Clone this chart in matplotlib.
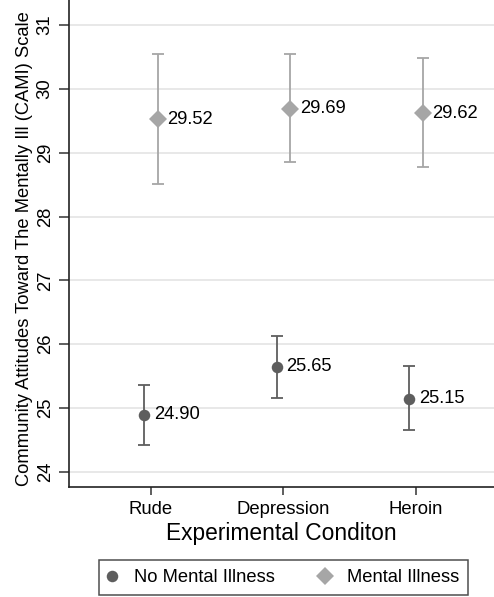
import matplotlib
matplotlib.use("Agg")
import matplotlib.pyplot as plt
from matplotlib.lines import Line2D

plt.rcParams["font.family"] = ["Liberation Sans", "DejaVu Sans"]

conditions = ["Rude", "Depression", "Heroin"]
no_mi_mean = [24.90, 25.65, 25.15]
no_mi_lo = [24.42, 25.16, 24.65]
no_mi_hi = [25.36, 26.13, 25.66]
mi_mean = [29.52, 29.69, 29.62]
mi_lo = [28.51, 28.85, 28.78]
mi_hi = [30.55, 30.54, 30.48]
yticks = [24, 25, 26, 27, 28, 29, 30, 31]

dark = "#5e5e5e"
light = "#a6a6a6"

fig = plt.figure(figsize=(4.94, 5.97), dpi=100)
ax = fig.add_axes([0.1397, 0.1848, 0.8603, 0.8152])

xpos = list(range(1, len(conditions) + 1))
off = 0.05

def draw_series(means, lo, hi, dx, color, marker, ms):
    xs = [x + dx for x in xpos]
    yerr = [[m - l for m, l in zip(means, lo)], [h - m for m, h in zip(means, hi)]]
    ax.errorbar(xs, means, yerr=yerr, fmt="none", ecolor=color, elinewidth=1.3,
                capsize=4.3, capthick=1.3, zorder=3)
    ax.plot(xs, means, linestyle="none", marker=marker, ms=ms, color=color,
            markeredgewidth=0, zorder=4)
    for x, m in zip(xs, means):
        ax.annotate(f"{m:.2f}", (x, m), xytext=(7, 0), textcoords="offset points",
                    ha="left", va="center", fontsize=13.2, color="black", zorder=5)

draw_series(no_mi_mean, no_mi_lo, no_mi_hi, -off, dark, "o", 8.3)
draw_series(mi_mean, mi_lo, mi_hi, off, light, "D", 8.8)

ax.set_xlim(0.381, 3.589)
ax.set_ylim(23.77, 31.39)
ax.set_xticks(xpos)
ax.set_xticklabels(conditions, fontsize=13.3)
ax.set_yticks(yticks)
ax.set_yticklabels([str(t) for t in yticks], fontsize=13.3, rotation=90, va="center")
ax.tick_params(axis="x", length=6, width=1.1, color="#333333", pad=4)
ax.tick_params(axis="y", length=7, width=1.1, color="#333333", pad=4)

ax.grid(axis="y", color="#e6e6e6", linewidth=1.3)
ax.set_axisbelow(True)
for s in ["top", "right"]:
    ax.spines[s].set_visible(False)
for s in ["left", "bottom"]:
    ax.spines[s].set_linewidth(1.2)
    ax.spines[s].set_color("#222222")

ax.set_xlabel("Experimental Conditon", fontsize=16.4, labelpad=3)
ax.set_ylabel("Community Attitudes Toward The Mentally Ill (CAMI) Scale",
              fontsize=13.2, labelpad=3)
ax.yaxis.set_label_coords(-0.085, 0.49)

handles = [
    Line2D([], [], linestyle="none", marker="o", ms=8.3, color=dark, markeredgewidth=0),
    Line2D([], [], linestyle="none", marker="D", ms=8.8, color=light, markeredgewidth=0),
]
leg = fig.legend(handles, ["No Mental Illness", "Mental Illness"], ncol=2,
                 loc="center", bbox_to_anchor=(283.5 / 494, 1 - 577.5 / 597),
                 fontsize=13.2, frameon=True, fancybox=False, edgecolor="#222222",
                 handletextpad=0.99, columnspacing=2.5, borderpad=0.5,
                 handlelength=0.42)
leg.get_frame().set_linewidth(1.1)

fig.savefig("out.png", dpi=100)
